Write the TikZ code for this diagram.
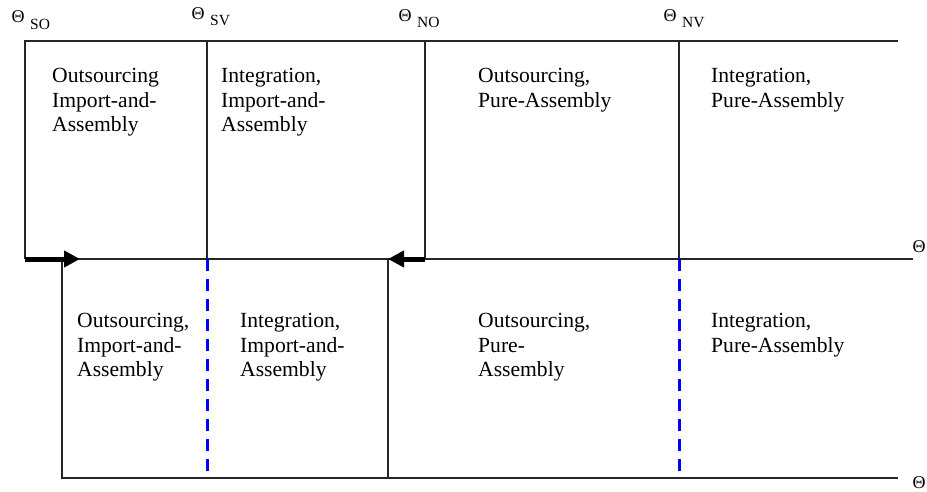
\documentclass[tikz,border=0pt]{standalone}
\usepackage{fontspec}
\setmainfont{Liberation Serif}
\usetikzlibrary{arrows.meta}
\begin{document}
\begin{tikzpicture}[x=1pt,y=-1pt,
  grid/.style={line width=1.2pt,draw=black!85},
  moveto/.style={line width=5pt,-{Triangle[length=16pt,width=16pt]}},
  divide/.style={line width=3pt,draw=blue,dash pattern=on 12pt off 8pt},
  cell/.style={anchor=north west,inner sep=0pt,align=left,
    font=\fontsize{21.6}{24.6}\selectfont},
  theta/.style={inner sep=0pt,font=\fontsize{18}{18}\selectfont},
  sub/.style={inner sep=0pt,anchor=base west,font=\fontsize{15.5}{15.5}\selectfont}]
\useasboundingbox (0,0) rectangle (927,492);

% corner points of the two strips
\coordinate (tl) at (25,41);
\coordinate (tr) at (898,41);
\coordinate (ml) at (25,259);
\coordinate (mls) at (62,259);
\coordinate (mr) at (913,259);
\coordinate (bl) at (62,478);
\coordinate (br) at (898,478);
\coordinate (sv) at (207,41);
\coordinate (svm) at (207,259);
\coordinate (svb) at (207,478);
\coordinate (no) at (425,41);
\coordinate (nom) at (425,259);
\coordinate (nv) at (679,41);
\coordinate (nvm) at (679,259);
\coordinate (nvb) at (679,478);
\coordinate (sob) at (388,259);
\coordinate (sobb) at (388,478);
\coordinate (soa) at (80,259);

% upper strip
\draw[grid] (ml) -- (tl) -- (tr);
\draw[grid] (sv) -- (svm);
\draw[grid] (no) -- (nom);
\draw[grid] (nv) -- (nvm);
\draw[grid] (mls) -- (mr);

% lower strip
\draw[grid] (mls) -- (bl) -- (br);
\draw[grid] (sob) -- (sobb);
\draw[divide] (svm) -- (svb);
\draw[divide] (nvm) -- (nvb);

% shifted thresholds
\draw[moveto] (ml) -- (soa);
\draw[moveto] (nom) -- (sob);

% threshold labels
\node[theta] (tso) at (18,17) {Θ};
\node[sub] (lso) at (30,30) {SO};
\node[theta] (tsv) at (198,14) {Θ};
\node[sub] (lsv) at (210,26) {SV};
\node[theta] (tno) at (405,16) {Θ};
\node[sub] (lno) at (417,28) {NO};
\node[theta] (tnv) at (670,16) {Θ};
\node[sub] (lnv) at (682,28) {NV};
\node[theta] (tm) at (919,247) {Θ};
\node[theta] (tb) at (919,483) {Θ};

% regime names, upper strip
\node[cell] (u1) at (52,68) {Outsourcing\\Import-and-\\Assembly};
\node[cell] (u2) at (221,68) {Integration,\\Import-and-\\Assembly};
\node[cell] (u3) at (478,68) {Outsourcing,\\Pure-Assembly};
\node[cell] (u4) at (711,68) {Integration,\\Pure-Assembly};

% regime names, lower strip
\node[cell] (d1) at (77,313) {Outsourcing,\\Import-and-\\Assembly};
\node[cell] (d2) at (240,313) {Integration,\\Import-and-\\Assembly};
\node[cell] (d3) at (478,313) {Outsourcing,\\Pure-\\Assembly};
\node[cell] (d4) at (711,313) {Integration,\\Pure-Assembly};
\end{tikzpicture}
\end{document}
